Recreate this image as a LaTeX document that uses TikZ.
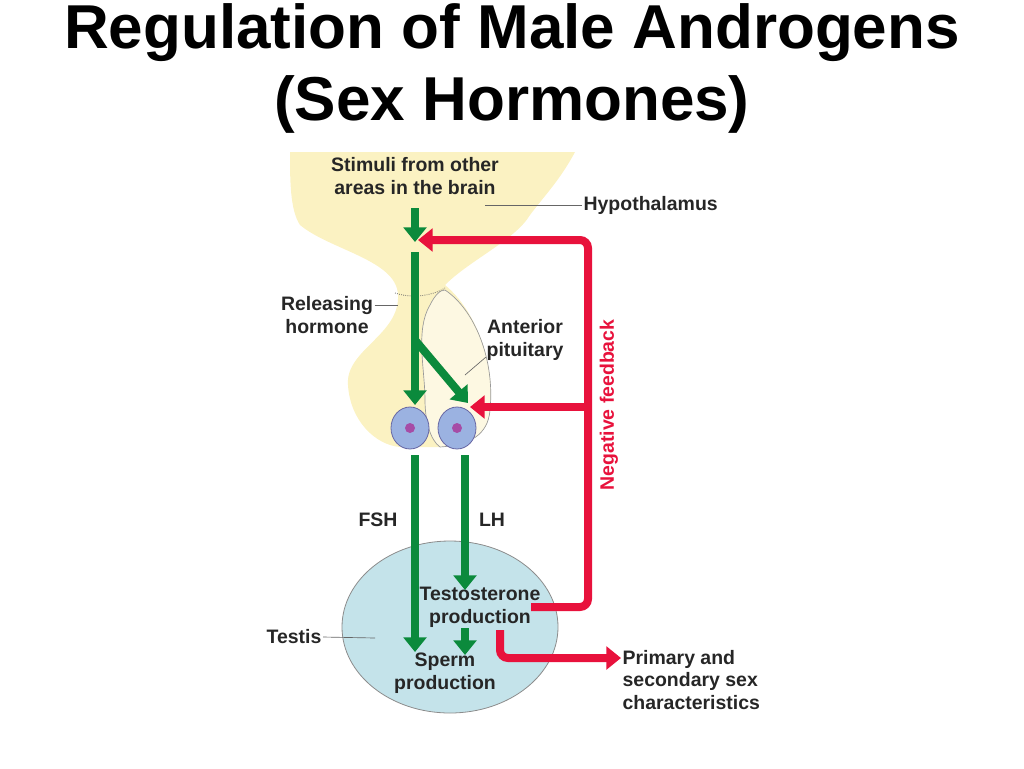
\documentclass[tikz,border=0pt]{standalone}
\usepackage{fontspec}
\setmainfont{Liberation Sans}
\usetikzlibrary{arrows.meta}
\definecolor{gr}{HTML}{0B8A3C}
\definecolor{rd}{HTML}{E8123C}
\definecolor{yl}{HTML}{FBF2C2}
\definecolor{cr}{HTML}{FDF8E2}
\definecolor{tb}{HTML}{C4E3EA}
\tikzset{
 lab/.style={font=\bfseries\fontsize{14.6}{17}\selectfont, align=center, text=black!85, inner sep=1pt},
 garr/.style={draw=gr, line width=6pt, -{Triangle[length=11pt,width=17pt]}},
 rarr/.style={draw=rd, line width=6pt, -{Triangle[length=11pt,width=17pt]}},
 lead/.style={draw=black!60, line width=0.5pt}
}
\begin{document}
\begin{tikzpicture}[x=0.75pt,y=-0.75pt]
\useasboundingbox (0,0) rectangle (1024,768);
\node (t1) at (512,33) {\fontsize{46.5}{54}\selectfont\bfseries Regulation of Male Androgens};
\node (t2) at (512,104) {\fontsize{46.5}{54}\selectfont\bfseries (Sex Hormones)};
% hypothalamus + pituitary
\fill[yl] (290,152) -- (575,152) .. controls (560,180) and (545,195) .. (530,215)
 .. controls (515,240) and (470,260) .. (445,285)
 .. controls (475,310) and (495,360) .. (490,410)
 .. controls (488,435) and (470,445) .. (440,447)
 -- (400,447) .. controls (375,445) and (350,420) .. (348,385)
 .. controls (345,350) and (400,335) .. (398,295)
 .. controls (397,260) and (330,250) .. (300,225)
 .. controls (290,210) and (290,180) .. (290,152) -- cycle;
\filldraw[fill=cr, draw=black!40, line width=0.5pt] (445,290)
 .. controls (475,310) and (495,360) .. (490,410)
 .. controls (488,435) and (470,445) .. (440,447)
 .. controls (430,440) and (425,420) .. (425,400)
 .. controls (425,370) and (415,330) .. (430,305) .. controls (435,295) and (440,290) .. (445,290) -- cycle;
\draw[black!60, densely dotted, line width=0.6pt] (395,293) .. controls (410,298) and (430,297) .. (445,288);
% cells
\foreach \cx/\nm in {410/c1,457/c2}{
 \filldraw[fill=cyan!45!blue!40, draw=blue!40!black!60, line width=0.6pt] (\cx,428) ellipse (19 and 21);
 \fill[violet!70] (\cx,428) circle (5);
}
\node[lab] (stim) at (415,176) {Stimuli from other\\areas in the brain};
\node[lab, anchor=west] (hyp) at (582,205) {Hypothalamus};
\draw[lead] (485,205) -- (hyp.west);
\node[lab] (rel) at (327,315) {Releasing\\hormone};
\draw[lead] (rel.east |- 0,305) -- (398,305);
\node[lab, anchor=west] (ant) at (485,340) {Anterior\\pituitary};
\draw[lead] (486,357) -- (465,375);
\node[lab, text=rd, rotate=90] (neg) at (609,405) {Negative feedback};
\node[lab] (fsh) at (378,520) {FSH};
\node[lab] (lh) at (492,520) {LH};
% testis
\filldraw[fill=tb, draw=black!45, line width=0.6pt] (450,627) ellipse (108 and 86);
\node[lab] (tes) at (480,607) {Testosterone\\production};
\node[lab] (sp) at (445,673) {Sperm\\production};
\node[lab] (tst) at (294,637) {Testis};
\draw[lead] (tst.east) -- (375,638);
\node[lab, anchor=west, align=left] (pri) at (621,680) {Primary and\\secondary sex\\characteristics};
% green arrows
\coordinate (g0) at (415,208);
\draw[garr] (g0) -- (415,242);
\draw[garr] (415,252) -- (415,405);
\draw[garr] (415,340) -- (468,403);
\draw[garr] (415,455) -- (415,652);
\draw[garr] (465,455) -- (465,590);
\draw[garr] (465,628) -- (465,655);
% red arrows
\draw[rarr, rounded corners=6pt] (531,607) -- (588,607) -- (588,240) -- (418,240);
\draw[rarr] (588,407) -- (470,407);
\draw[rarr, rounded corners=6pt] (500,630) -- (500,658) -- (pri.west |- 0,658);
\end{tikzpicture}
\end{document}
